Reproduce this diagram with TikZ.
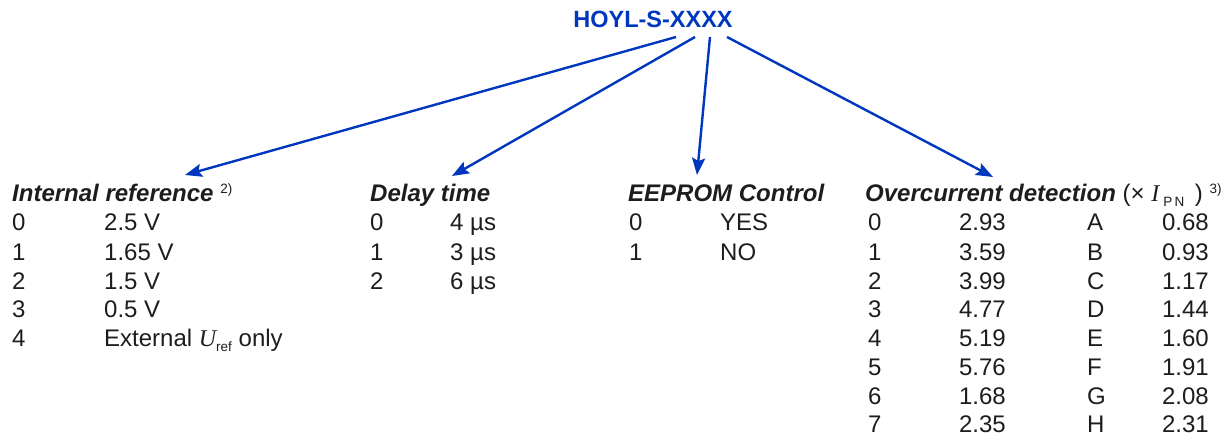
\documentclass[tikz,border=0pt]{standalone}
\usepackage{fontspec}
\setmainfont{Liberation Sans}
\newfontfamily\formelfont{Liberation Serif}
\usetikzlibrary{arrows.meta}

\definecolor{lemblau}{RGB}{0,55,190}
\definecolor{textschwarz}{RGB}{30,28,28}

\tikzset{
	eintrag/.style={inner sep=0pt, text=textschwarz, font=\fontsize{24}{28}\selectfont},
	kopf/.style={eintrag, font=\fontsize{24}{28}\selectfont\bfseries\itshape},
	pfeil/.style={->, lemblau, line width=2.4pt}
}
\newcommand{\hochz}[1]{\raisebox{8pt}{\fontsize{13.5}{13.5}\selectfont #1}}
\newcommand{\tiefz}[1]{\raisebox{-5pt}{\fontsize{13.5}{13.5}\selectfont #1}}

\begin{document}
\begin{tikzpicture}[x=1pt, y=-1pt, >={Stealth[length=17pt,width=13pt,inset=3pt]}]
		\useasboundingbox (0,0) rectangle (1225,438);

		% zeichne Typenbezeichnung
		\draw (653,28) node[anchor=base, inner sep=0pt, text=lemblau, font=\fontsize{23.5}{28}\selectfont\bfseries] (typ) {HOYL-S-XXXX};

		% Anfangs- und Endpunkte der Pfeile
		\coordinate (typ1) at (676,37);
		\coordinate (typ2) at (695,37);
		\coordinate (typ3) at (710,37);
		\coordinate (typ4) at (727,37);
		\coordinate (irziel) at (185,175);
		\coordinate (dtziel) at (452,176);
		\coordinate (eeziel) at (697,175);
		\coordinate (ocziel) at (993,177);

		% zeichne Pfeile
		\draw[pfeil] (typ1) -- (irziel);
		\draw[pfeil] (typ2) -- (dtziel);
		\draw[pfeil] (typ3) -- (eeziel);
		\draw[pfeil] (typ4) -- (ocziel);

		% zeichne Internal reference
		\draw (12,202) node[kopf, anchor=base west] (ir) {Internal reference {\mdseries\upshape\hochz{2)}}};
		\draw (12,231) node[eintrag, anchor=base west] (ir0) {0} (104,231) node[eintrag, anchor=base west] (ir0w) {2.5 V};
		\draw (12,260) node[eintrag, anchor=base west] (ir1) {1} (104,260) node[eintrag, anchor=base west] (ir1w) {1.65 V};
		\draw (12,289) node[eintrag, anchor=base west] (ir2) {2} (104,289) node[eintrag, anchor=base west] (ir2w) {1.5 V};
		\draw (12,317) node[eintrag, anchor=base west] (ir3) {3} (104,317) node[eintrag, anchor=base west] (ir3w) {0.5 V};
		\draw (12,346) node[eintrag, anchor=base west] (ir4) {4} (104,346) node[eintrag, anchor=base west] (ir4w) {External {\formelfont\itshape U}\tiefz{ref} only};

		% zeichne Delay time
		\draw (370,202) node[kopf, anchor=base west] (dt) {Delay time};
		\draw (370,231) node[eintrag, anchor=base west] (dt0) {0} (450,231) node[eintrag, anchor=base west] (dt0w) {4 µs};
		\draw (370,260) node[eintrag, anchor=base west] (dt1) {1} (450,260) node[eintrag, anchor=base west] (dt1w) {3 µs};
		\draw (370,289) node[eintrag, anchor=base west] (dt2) {2} (450,289) node[eintrag, anchor=base west] (dt2w) {6 µs};

		% zeichne EEPROM Control
		\draw (628,202) node[kopf, anchor=base west] (ee) {EEPROM Control};
		\draw (629,231) node[eintrag, anchor=base west] (ee0) {0} (720,231) node[eintrag, anchor=base west] (ee0w) {YES};
		\draw (629,260) node[eintrag, anchor=base west] (ee1) {1} (720,260) node[eintrag, anchor=base west] (ee1w) {NO};

		% zeichne Overcurrent detection
		\draw (865,202) node[kopf, anchor=base west] (oc) {Overcurrent detection {\mdseries\upshape (× {\formelfont\itshape I}\,\tiefz{P\,N}\, ) \hochz{3)}}};
		\draw (868,231) node[eintrag, anchor=base west] (oc0) {0} (1006,231) node[eintrag, anchor=base east] (oc0w) {2.93}
			(1087,231) node[eintrag, anchor=base west] (ocA) {A} (1209,231) node[eintrag, anchor=base east] (ocAw) {0.68};
		\draw (868,260) node[eintrag, anchor=base west] (oc1) {1} (1006,260) node[eintrag, anchor=base east] (oc1w) {3.59}
			(1087,260) node[eintrag, anchor=base west] (ocB) {B} (1209,260) node[eintrag, anchor=base east] (ocBw) {0.93};
		\draw (868,289) node[eintrag, anchor=base west] (oc2) {2} (1006,289) node[eintrag, anchor=base east] (oc2w) {3.99}
			(1087,289) node[eintrag, anchor=base west] (ocC) {C} (1209,289) node[eintrag, anchor=base east] (ocCw) {1.17};
		\draw (868,317) node[eintrag, anchor=base west] (oc3) {3} (1006,317) node[eintrag, anchor=base east] (oc3w) {4.77}
			(1087,317) node[eintrag, anchor=base west] (ocD) {D} (1209,317) node[eintrag, anchor=base east] (ocDw) {1.44};
		\draw (868,346) node[eintrag, anchor=base west] (oc4) {4} (1006,346) node[eintrag, anchor=base east] (oc4w) {5.19}
			(1087,346) node[eintrag, anchor=base west] (ocE) {E} (1209,346) node[eintrag, anchor=base east] (ocEw) {1.60};
		\draw (868,375) node[eintrag, anchor=base west] (oc5) {5} (1006,375) node[eintrag, anchor=base east] (oc5w) {5.76}
			(1087,375) node[eintrag, anchor=base west] (ocF) {F} (1209,375) node[eintrag, anchor=base east] (ocFw) {1.91};
		\draw (868,404) node[eintrag, anchor=base west] (oc6) {6} (1006,404) node[eintrag, anchor=base east] (oc6w) {1.68}
			(1087,404) node[eintrag, anchor=base west] (ocG) {G} (1209,404) node[eintrag, anchor=base east] (ocGw) {2.08};
		\draw (868,432) node[eintrag, anchor=base west] (oc7) {7} (1006,432) node[eintrag, anchor=base east] (oc7w) {2.35}
			(1087,432) node[eintrag, anchor=base west] (ocH) {H} (1209,432) node[eintrag, anchor=base east] (ocHw) {2.31};
	\end{tikzpicture}
\end{document}
